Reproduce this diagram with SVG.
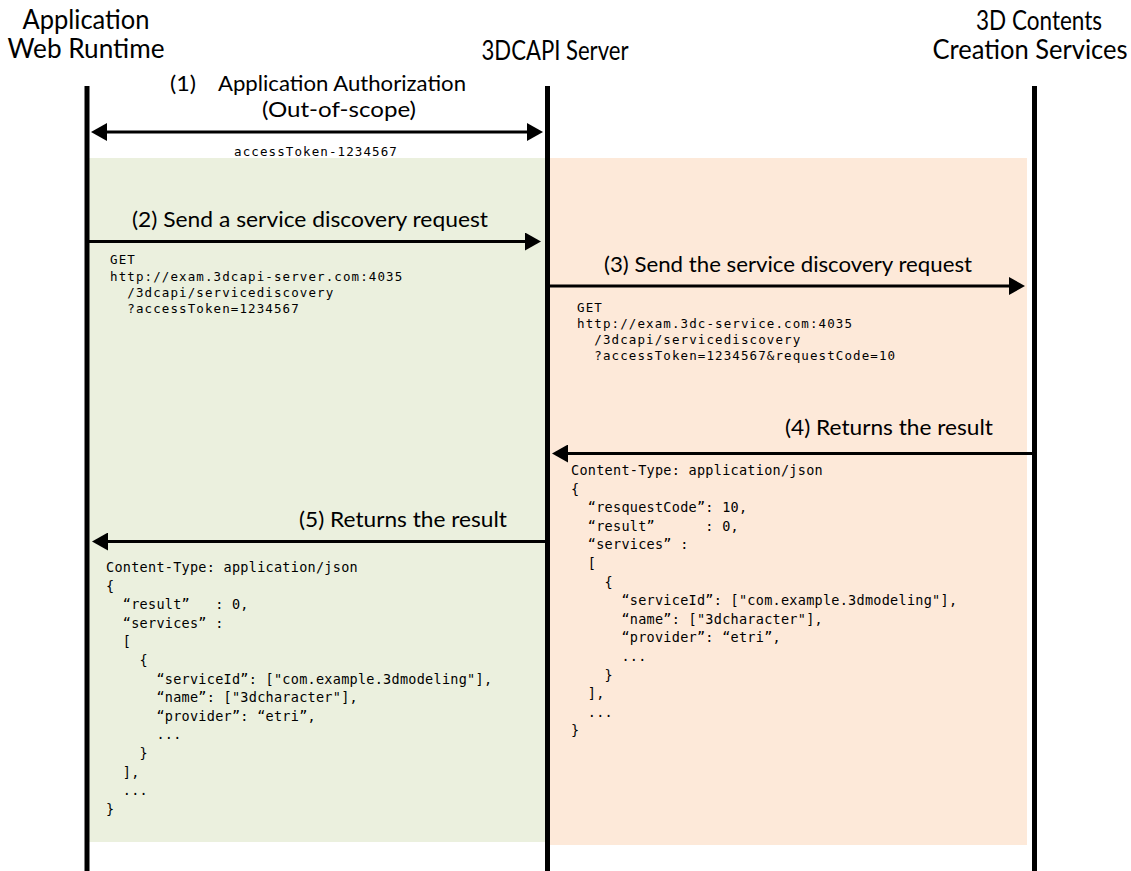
<svg xmlns="http://www.w3.org/2000/svg" width="1131" height="871" viewBox="0 0 1131 871">
  <style>
    .hdr { font-family: Lato, "Open Sans", "Liberation Sans", sans-serif; font-size: 26px; fill: #000; text-anchor: middle; }
    .lbl { font-family: Lato, "Open Sans", "Liberation Sans", sans-serif; font-size: 22px; fill: #000; }
    .code { font-family: "DejaVu Sans Mono", "Liberation Mono", monospace; font-size: 12.5px; letter-spacing: 1.1px; fill: #000; white-space: pre; }
    .json { font-family: "DejaVu Sans Mono", "Liberation Mono", monospace; font-size: 13.5px; letter-spacing: 0.27px; fill: #000; white-space: pre; }
    .life { stroke: #000; stroke-width: 5; fill: none; }
    .msg { stroke: #000; stroke-width: 3; fill: none; marker-end: url(#ah); }
  </style>
  <defs>
    <marker id="ah" markerUnits="userSpaceOnUse" markerWidth="16" markerHeight="18" viewBox="0 0 16 18" refX="6" refY="9" orient="auto-start-reverse">
      <path d="M0,0 L16,9 L0,18 Z" fill="#000"/>
    </marker>
  </defs>

  <!-- background regions -->
  <rect id="zone-left" x="87" y="158" width="460" height="684" fill="#EBF0DE"/>
  <rect id="zone-right" x="547" y="158" width="480" height="687" fill="#FDE9D9"/>

  <!-- lifelines / participants -->
  <g id="app-runtime">
    <text class="hdr" x="86" y="29" textLength="127" lengthAdjust="spacingAndGlyphs">Application</text>
    <text class="hdr" x="86" y="58" textLength="157" lengthAdjust="spacingAndGlyphs">Web Runtime</text>
    <line class="life" x1="87" y1="86" x2="87" y2="871"/>
  </g>
  <g id="server">
    <text class="hdr" x="555" y="60" textLength="147" lengthAdjust="spacingAndGlyphs">3DCAPI Server</text>
    <line class="life" x1="547.5" y1="86" x2="547.5" y2="871"/>
  </g>
  <g id="services">
    <text class="hdr" x="1039" y="30" textLength="126" lengthAdjust="spacingAndGlyphs">3D Contents</text>
    <text class="hdr" x="1030" y="59" textLength="195" lengthAdjust="spacingAndGlyphs">Creation Services</text>
    <line class="life" x1="1034.5" y1="86" x2="1034.5" y2="871"/>
  </g>

  <!-- connectors -->
  <g id="connectors">
    <line class="msg" x1="101" y1="132" x2="533" y2="132" style="marker-start:url(#ah)"/>
    <line class="msg" x1="89" y1="241.5" x2="531" y2="241.5"/>
    <line class="msg" x1="550" y1="286" x2="1015" y2="286"/>
    <line class="msg" x1="1032" y1="453.5" x2="562" y2="453.5"/>
    <line class="msg" x1="545" y1="541.5" x2="102" y2="541.5"/>
  </g>

  <!-- labels -->
  <g id="msg1-label">
    <text class="lbl" y="91"><tspan x="170" textLength="26" lengthAdjust="spacingAndGlyphs">(1)</tspan><tspan x="218" textLength="248" lengthAdjust="spacingAndGlyphs">Application Authorization</tspan></text>
    <text class="lbl" x="339" y="117" text-anchor="middle" textLength="154" lengthAdjust="spacingAndGlyphs">(Out-of-scope)</text>
    <text class="code" x="316" y="156" text-anchor="middle">accessToken-1234567</text>
  </g>
  <g id="msg2-label">
    <text class="lbl" x="310" y="227" text-anchor="middle" textLength="356" lengthAdjust="spacingAndGlyphs">(2) Send a service discovery request</text>
    <text class="code" x="110" y="264">GET</text>
    <text class="code" x="110" y="280.5">http://exam.3dcapi-server.com:4035</text>
    <text class="code" x="110" y="297">  /3dcapi/servicediscovery</text>
    <text class="code" x="110" y="313">  ?accessToken=1234567</text>
  </g>
  <g id="msg3-label">
    <text class="lbl" x="788" y="272" text-anchor="middle" textLength="368" lengthAdjust="spacingAndGlyphs">(3) Send the service discovery request</text>
    <text class="code" x="577" y="312">GET</text>
    <text class="code" x="577" y="328">http://exam.3dc-service.com:4035</text>
    <text class="code" x="577" y="344">  /3dcapi/servicediscovery</text>
    <text class="code" x="577" y="360">  ?accessToken=1234567&amp;requestCode=10</text>
  </g>
  <g id="msg4-label">
    <text class="lbl" x="993" y="435" text-anchor="end" textLength="208" lengthAdjust="spacingAndGlyphs">(4) Returns the result</text>
    <text class="json" x="571" y="475">Content-Type: application/json</text>
    <text class="json" x="571" y="493.6">{</text>
    <text class="json" x="571" y="512.2">  “resquestCode”: 10,</text>
    <text class="json" x="571" y="530.8">  “result”      : 0,</text>
    <text class="json" x="571" y="549.4">  “services” :</text>
    <text class="json" x="571" y="568">  [</text>
    <text class="json" x="571" y="586.6">    {</text>
    <text class="json" x="571" y="605.2">      “serviceId”: ["com.example.3dmodeling"],</text>
    <text class="json" x="571" y="623.8">      “name”: ["3dcharacter"],</text>
    <text class="json" x="571" y="642.4">      “provider”: “etri”,</text>
    <text class="json" x="571" y="661">      ...</text>
    <text class="json" x="571" y="679.6">    }</text>
    <text class="json" x="571" y="698.2">  ],</text>
    <text class="json" x="571" y="716.8">  ...</text>
    <text class="json" x="571" y="735.4">}</text>
  </g>
  <g id="msg5-label">
    <text class="lbl" x="507" y="527" text-anchor="end" textLength="208" lengthAdjust="spacingAndGlyphs">(5) Returns the result</text>
    <text class="json" x="106" y="572">Content-Type: application/json</text>
    <text class="json" x="106" y="590.6">{</text>
    <text class="json" x="106" y="609.2">  “result”   : 0,</text>
    <text class="json" x="106" y="627.8">  “services” :</text>
    <text class="json" x="106" y="646.4">  [</text>
    <text class="json" x="106" y="665">    {</text>
    <text class="json" x="106" y="683.6">      “serviceId”: ["com.example.3dmodeling"],</text>
    <text class="json" x="106" y="702.2">      “name”: ["3dcharacter"],</text>
    <text class="json" x="106" y="720.8">      “provider”: “etri”,</text>
    <text class="json" x="106" y="739.4">      ...</text>
    <text class="json" x="106" y="758">    }</text>
    <text class="json" x="106" y="776.6">  ],</text>
    <text class="json" x="106" y="795.2">  ...</text>
    <text class="json" x="106" y="813.8">}</text>
  </g>
</svg>
